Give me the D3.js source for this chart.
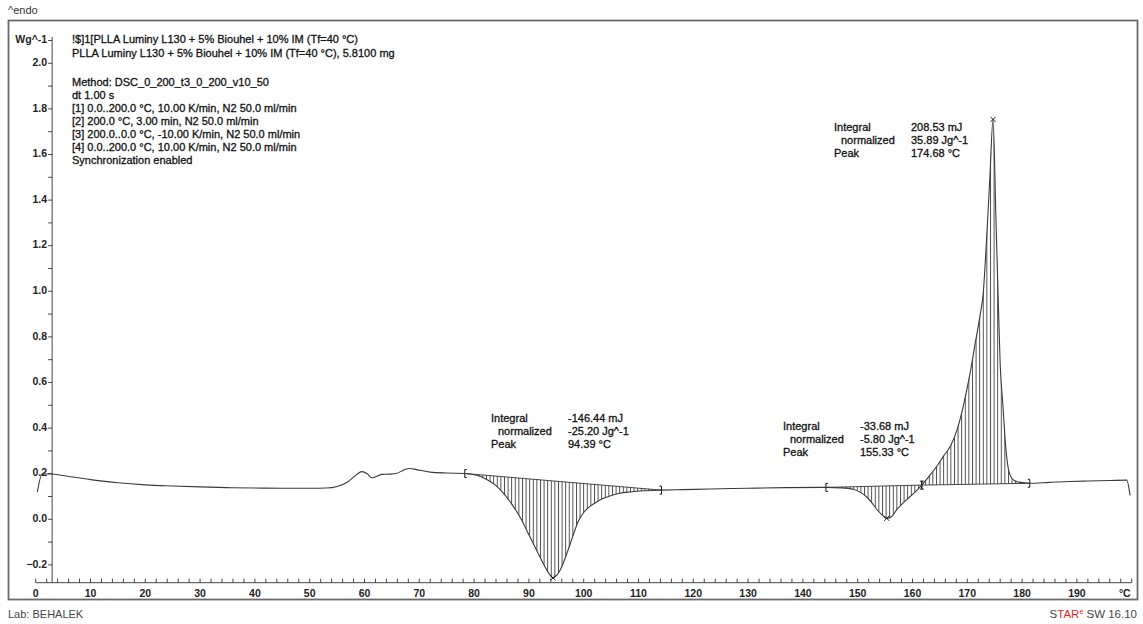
<!DOCTYPE html>
<html>
<head>
<meta charset="utf-8">
<script src="https://cdn.jsdelivr.net/npm/d3@7/dist/d3.min.js"></script>
<style>
  html, body { margin: 0; padding: 0; background: #fff; }
  svg { display: block; font-family: "Liberation Sans", Arial, sans-serif; }
</style>
</head>
<body>
<svg id="chart" width="1143" height="624"></svg>
<script>
// ---------------- DATA ----------------
const temps = [0.3, 1.2, 3, 6, 10, 15, 20, 25, 30, 35, 40, 45, 50, 53, 55, 57, 58.5, 59.5, 60.5, 61.3,
  62.2, 63.2, 64.5, 65.8, 66.8, 67.6, 68.3, 69.5, 72, 75, 78.3, 80.5, 82.3, 84, 85.5, 87, 88.5, 90,
  91.5, 92.8, 93.8, 94.4, 95.1, 96.0, 97.0, 98, 99, 100, 101.2, 102.5, 103.6, 105, 106.6, 108.5,
  110.9, 114.2, 118, 123, 130, 137, 144.2, 147, 149.2, 150.5, 151.6, 152.6, 153.5, 154.5, 155.3,
  156.2, 157.1, 158.3, 159.6, 160.7, 161.7, 163.2, 164.5, 165.6, 167, 168.1, 169.3, 170.5, 171.5,
  172.3, 172.9, 173.5, 174.1, 174.7, 175.2, 175.6, 176.0, 176.5, 177.0, 177.5, 178.0, 178.6, 179.4,
  181.4, 185, 188.7, 192, 196, 199.1, 199.7];
const heatFlow = [0.12, 0.20, 0.199, 0.188, 0.174, 0.160, 0.151, 0.146, 0.142, 0.139, 0.137, 0.136,
  0.136, 0.137, 0.144, 0.165, 0.195, 0.209, 0.200, 0.182, 0.188, 0.197, 0.198, 0.201, 0.212, 0.221,
  0.223, 0.218, 0.207, 0.203, 0.201, 0.193, 0.175, 0.148, 0.110, 0.062, 0.005, -0.068, -0.140,
  -0.203, -0.243, -0.257, -0.245, -0.208, -0.145, -0.075, -0.010, 0.030, 0.058, 0.078, 0.092,
  0.104, 0.114, 0.120, 0.125, 0.128, 0.130, 0.133, 0.136, 0.139, 0.140, 0.138, 0.132, 0.118,
  0.099, 0.072, 0.043, 0.018, 0.004, 0.012, 0.041, 0.072, 0.100, 0.125, 0.150, 0.194, 0.235,
  0.275, 0.325, 0.390, 0.500, 0.640, 0.780, 0.890, 0.990, 1.22, 1.49, 1.754, 1.34, 1.00, 0.68,
  0.50, 0.32, 0.22, 0.185, 0.170, 0.163, 0.158, 0.162, 0.166, 0.168, 0.170, 0.172, 0.105];

const xTickLabels = [0, 10, 20, 30, 40, 50, 60, 70, 80, 90, 100, 110, 120, 130, 140, 150, 160, 170, 180, 190];
const xUnitLabel = "°C";
const yTickLabels = [-0.2, 0.0, 0.2, 0.4, 0.6, 0.8, 1.0, 1.2, 1.4, 1.6, 1.8, 2.0];
const yUnitLabel = "Wg^-1";

// integration limits and peaks (temperatures present in the data)
const intStart = [78.3, 144.2, 161.7];
const intEnd = [114.2, 161.7, 181.4];
const peakTemps = [94.4, 155.3, 174.7];

const intValues = ["-146.44 mJ", "-33.68 mJ", "208.53 mJ"];
const normValues = ["-25.20 Jg^-1", "-5.80 Jg^-1", "35.89 Jg^-1"];
const peakValues = ["94.39 °C", "155.33 °C", "174.68 °C"];

const headerLines = [
  "!$]1[PLLA Luminy L130 + 5% Biouhel + 10% IM (Tf=40 °C)",
  "PLLA Luminy L130 + 5% Biouhel + 10% IM (Tf=40 °C), 5.8100 mg",
  "",
  "Method: DSC_0_200_t3_0_200_v10_50",
  "dt 1.00 s",
  "[1] 0.0..200.0 °C, 10.00 K/min, N2 50.0 ml/min",
  "[2] 200.0 °C, 3.00 min, N2 50.0 ml/min",
  "[3] 200.0..0.0 °C, -10.00 K/min, N2 50.0 ml/min",
  "[4] 0.0..200.0 °C, 10.00 K/min, N2 50.0 ml/min",
  "Synchronization enabled"
];

// ---------------- DRAW ----------------
const svg = d3.select("#chart");
const x = d3.scaleLinear().domain([0, 200]).range([35.7, 1131.7]);
const y = d3.scaleLinear().domain([0, 2]).range([519.3, 63.3]);
const data = temps.map((t, i) => ({ t, v: heatFlow[i] }));
const valAt = t => data.find(d => Math.abs(d.t - t) < 1e-9).v;

const defs = svg.append("defs");
const pat = defs.append("pattern").attr("id", "hatch").attr("patternUnits", "userSpaceOnUse")
  .attr("width", 3.6).attr("height", 20);
pat.append("line").attr("x1", 0.5).attr("x2", 0.5).attr("y1", 0).attr("y2", 20)
  .attr("stroke", "#1a1a1a").attr("stroke-width", 0.8);

// frame
svg.append("rect").attr("x", 8.5).attr("y", 20.5).attr("width", 1129).attr("height", 579)
  .attr("fill", "none").attr("stroke", "#6a6a6a").attr("stroke-width", 1.8);

const txt = (xx, yy, s, opts = {}) => {
  const f = opts.fill || "#111";
  return svg.append("text").attr("x", xx).attr("y", yy)
    .attr("font-size", opts.size || 11).attr("fill", f)
    .attr("stroke", opts.thick === false ? "none" : f).attr("stroke-width", 0.3)
    .attr("text-anchor", opts.anchor || "start").attr("dominant-baseline", "middle")
    .attr("font-weight", opts.weight || "normal").text(s);
};

txt(8, 11, "^endo", { fill: "#333", thick: false });
txt(8, 615, "Lab: BEHALEK", { fill: "#444", thick: false });
const star = svg.append("text").attr("x", 1137).attr("y", 615).attr("text-anchor", "end")
  .attr("dominant-baseline", "middle").attr("font-size", 11.5).attr("fill", "#444");
star.append("tspan").text("S");
star.append("tspan").attr("fill", "#e8262a").text("TAR");
star.append("tspan").attr("fill", "#e8262a").attr("font-size", 7).attr("dy", -3).text("e");
star.append("tspan").attr("dy", 3).text(" SW 16.10");

// header
headerLines.forEach((s, i) => {
  if (!s) return;
  const yy = i < 2 ? 40 + i * 14 : 83 + (i - 3) * 13;
  txt(72, yy, s, { size: 11 });
});

// y axis
const yAxisX = x(3);
const yTop = 37, xAxisY = 582.7;
svg.append("line").attr("x1", yAxisX).attr("x2", yAxisX).attr("y1", yTop).attr("y2", xAxisY)
  .attr("stroke", "#444").attr("stroke-width", 1);
const yMinor = d3.range(-0.2, 2.11, 0.1);
yMinor.forEach(v => {
  svg.append("line").attr("x1", yAxisX - 4).attr("x2", yAxisX).attr("y1", y(v)).attr("y2", y(v))
    .attr("stroke", "#444").attr("stroke-width", 1);
});
yTickLabels.forEach(v => txt(yAxisX - 5, y(v), d3.format(".1f")(v), { anchor: "end", weight: "bold", size: 10.5, fill: "#222", thick: false }));
txt(yAxisX - 5, y(2.1), yUnitLabel, { anchor: "end", weight: "bold", size: 10.5, fill: "#222", thick: false });

// x axis
svg.append("line").attr("x1", x(0)).attr("x2", x(200)).attr("y1", xAxisY).attr("y2", xAxisY)
  .attr("stroke", "#444").attr("stroke-width", 1);
d3.range(0, 201, 2).forEach(t => {
  svg.append("line").attr("x1", x(t)).attr("x2", x(t)).attr("y1", xAxisY).attr("y2", xAxisY - 4)
    .attr("stroke", "#444").attr("stroke-width", 1);
});
xTickLabels.forEach(t => txt(x(t), 594, String(t), { anchor: "middle", weight: "bold", size: 10.5, fill: "#222", thick: false }));
txt(x(200) - 1, 594, xUnitLabel, { anchor: "end", weight: "bold", size: 10.5, fill: "#222", thick: false });

// hatched integration areas + baselines
intStart.forEach((t0, i) => {
  const t1 = intEnd[i];
  const v0 = valAt(t0), v1 = valAt(t1);
  const base = t => v0 + (v1 - v0) * (t - t0) / (t1 - t0);
  const seg = data.filter(d => d.t >= t0 - 1e-9 && d.t <= t1 + 1e-9);
  const area = d3.area().x(d => x(d.t)).y0(d => y(base(d.t))).y1(d => y(d.v)).curve(d3.curveMonotoneX);
  svg.append("path").datum(seg).attr("d", area).attr("fill", "url(#hatch)").attr("stroke", "none");
  svg.append("line").attr("x1", x(t0)).attr("y1", y(v0)).attr("x2", x(t1)).attr("y2", y(v1))
    .attr("stroke", "#333").attr("stroke-width", 0.9);
  // limit markers
  [[t0, v0, 1], [t1, v1, -1]].forEach(([t, v, dir]) => {
    const px = x(t), py = y(v);
    svg.append("path").attr("d", `M${px + 2 * dir},${py - 4}H${px}V${py + 4}H${px + 2 * dir}`)
      .attr("fill", "none").attr("stroke", "#111").attr("stroke-width", 1);
  });
});

// curve
const line = d3.line().x(d => x(d.t)).y(d => y(d.v)).curve(d3.curveMonotoneX);
svg.append("path").datum(data).attr("d", line).attr("fill", "none")
  .attr("stroke", "#3a3a3a").attr("stroke-width", 1.1);

// peak markers
peakTemps.forEach(t => {
  const px = x(t), py = y(valAt(t));
  svg.append("path").attr("d", `M${px - 2.5},${py - 2.5}L${px + 2.5},${py + 2.5}M${px - 2.5},${py + 2.5}L${px + 2.5},${py - 2.5}`)
    .attr("stroke", "#111").attr("stroke-width", 0.9);
});

// annotations
const annoPos = [[491, 419], [783, 427], [834, 128]];
annoPos.forEach(([ax, ay], i) => {
  txt(ax, ay, "Integral");
  txt(ax + 7, ay + 13, "normalized");
  txt(ax, ay + 26, "Peak");
  txt(ax + 77, ay, intValues[i]);
  txt(ax + 77, ay + 13, normValues[i]);
  txt(ax + 77, ay + 26, peakValues[i]);
});
</script>
</body>
</html>
